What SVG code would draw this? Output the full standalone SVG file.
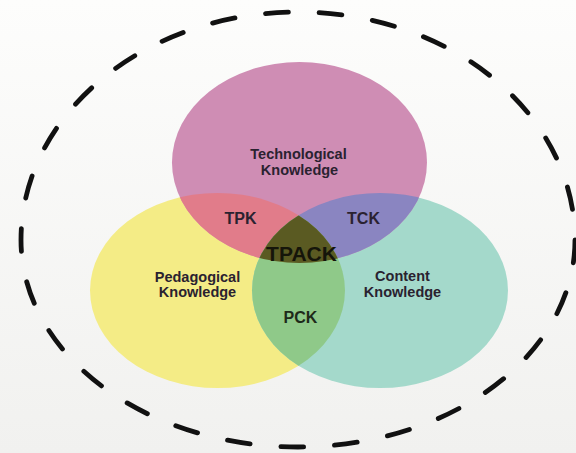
<svg xmlns="http://www.w3.org/2000/svg" width="576" height="453" viewBox="0 0 576 453">
  <defs>
    <linearGradient id="bg" x1="0" y1="0" x2="0" y2="1">
      <stop offset="0" stop-color="#fdfdfc"/>
      <stop offset="1" stop-color="#f1f1ef"/>
    </linearGradient>
    <clipPath id="clipP"><ellipse cx="299.5" cy="162.5" rx="127.5" ry="100.5"/></clipPath>
    <clipPath id="clipY"><ellipse cx="217.5" cy="290.5" rx="127.5" ry="97.5"/></clipPath>
    <clipPath id="clipT"><ellipse cx="380" cy="290.5" rx="128" ry="97.5"/></clipPath>
    <style>
      .lbl { font-family: "Liberation Sans", Arial, sans-serif; font-weight: bold; text-anchor: middle; fill: #2a2230; }
      .big { font-size: 14.5px; }
      .mid { font-size: 16px; }
      .dash { fill: none; stroke: #111; stroke-width: 4.8; stroke-linecap: round; stroke-dasharray: 23 31; stroke-dashoffset: 11.5; }
    </style>
  </defs>
  <rect width="576" height="453" fill="url(#bg)"/>

  <g id="boundary">
    <path class="dash" pathLength="1566" d="M 21 240 A 277 228 0 0 1 575 240 A 277 207 0 0 1 21 240 Z"/>
  </g>

  <g id="pk">
    <ellipse cx="217.5" cy="290.5" rx="127.5" ry="97.5" fill="#f4ec86"/>
  </g>
  <g id="ck">
    <ellipse cx="380" cy="290.5" rx="128" ry="97.5" fill="#a4d9cb"/>
  </g>
  <g id="tk">
    <ellipse cx="299.5" cy="162.5" rx="127.5" ry="100.5" fill="#cf8db4"/>
  </g>

  <g id="tpk">
    <ellipse cx="217.5" cy="290.5" rx="127.5" ry="97.5" fill="#e17c8a" clip-path="url(#clipP)"/>
  </g>
  <g id="tck">
    <ellipse cx="380" cy="290.5" rx="128" ry="97.5" fill="#8a85c1" clip-path="url(#clipP)"/>
  </g>
  <g id="pck">
    <ellipse cx="380" cy="290.5" rx="128" ry="97.5" fill="#8fc989" clip-path="url(#clipY)"/>
  </g>
  <g id="tpack">
    <g clip-path="url(#clipY)">
      <ellipse cx="299.5" cy="162.5" rx="127.5" ry="100.5" fill="#5a5a22" clip-path="url(#clipT)"/>
    </g>
  </g>

  <g id="labels">
    <text class="lbl big" x="298.5" y="159">Technological</text>
    <text class="lbl big" x="299.5" y="175">Knowledge</text>
    <text class="lbl big" x="197.5" y="281.5">Pedagogical</text>
    <text class="lbl big" x="197.5" y="297">Knowledge</text>
    <text class="lbl big" x="402.5" y="280.5">Content</text>
    <text class="lbl big" x="402.5" y="296.5">Knowledge</text>
    <text class="lbl mid" x="240.5" y="224">TPK</text>
    <text class="lbl mid" x="363.5" y="224">TCK</text>
    <text class="lbl mid" x="300.5" y="322.5" style="fill:#1e2a1a">PCK</text>
    <text class="lbl" x="301.5" y="260.5" style="font-size:21px;fill:#15150a">TPACK</text>
  </g>
</svg>
